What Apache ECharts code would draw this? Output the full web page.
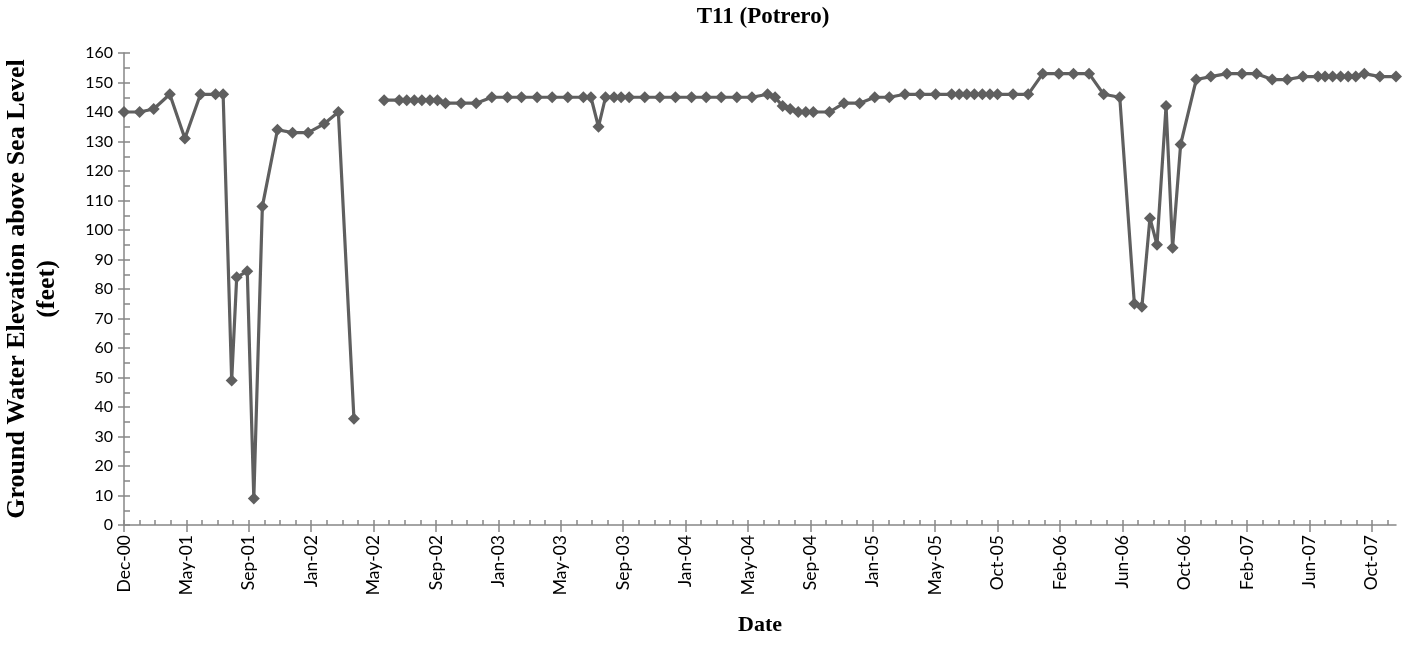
<!DOCTYPE html>
<html><head><meta charset="utf-8">
<script src="https://cdn.jsdelivr.net/npm/echarts@6/dist/echarts.min.js"></script>
<style>html,body{margin:0;padding:0;background:#fff}#c{width:1411px;height:646px}</style>
</head><body><div id="c"></div>
<script>
const chartTitle = 'T11 (Potrero)';
const yAxisTitle = 'Ground Water Elevation above Sea Level\n(feet)';
const xAxisTitle = 'Date';
const axisStartDate = '2000-12-31';
const majorTickDays = 124;
const minorTickDays = 31;
const monthNames = ['Jan','Feb','Mar','Apr','May','Jun','Jul','Aug','Sep','Oct','Nov','Dec'];

const dates = [
 '2000-12-31','2001-01-31','2001-02-28','2001-04-01','2001-05-01','2001-06-01','2001-07-01','2001-07-16',
 '2001-08-02','2001-08-12','2001-09-02','2001-09-15','2001-10-02','2001-11-01','2001-12-01','2002-01-01',
 '2002-02-02','2002-03-02','2002-04-02','2002-05-02',
 '2002-06-01','2002-07-01','2002-07-16','2002-07-31','2002-08-15','2002-08-31','2002-09-15','2002-10-01',
 '2002-11-01','2002-12-01','2003-01-01','2003-02-01','2003-03-01','2003-04-01','2003-05-01','2003-06-01',
 '2003-07-02','2003-07-17','2003-08-01','2003-08-15','2003-09-01','2003-09-15','2003-10-01','2003-11-01',
 '2003-12-01','2004-01-01','2004-02-02','2004-03-02','2004-04-01','2004-05-02','2004-06-01','2004-07-02',
 '2004-07-17','2004-08-01','2004-08-16','2004-09-01','2004-09-16','2004-10-01','2004-11-02','2004-12-01',
 '2005-01-01','2005-01-31','2005-03-01','2005-04-01','2005-05-01','2005-06-01','2005-07-03','2005-07-18',
 '2005-08-02','2005-08-17','2005-09-02','2005-09-17','2005-10-02','2005-11-02','2005-12-02','2005-12-31',
 '2006-02-01','2006-03-02','2006-04-02','2006-05-01','2006-06-02','2006-07-01','2006-07-16','2006-08-01',
 '2006-08-15','2006-09-02','2006-09-15','2006-10-01','2006-11-01','2006-11-30','2007-01-01','2007-01-31',
 '2007-03-01','2007-04-01','2007-05-01','2007-06-01','2007-07-01','2007-07-15','2007-07-30','2007-08-15',
 '2007-08-30','2007-09-14','2007-10-01','2007-11-01','2007-12-03'
];
const levels = [
 140,140,141,146,131,146,146,146,
 49,84,86,9,108,134,133,133,
 136,140,36,null,
 144,144,144,144,144,144,144,143,
 143,143,145,145,145,145,145,145,
 145,145,135,145,145,145,145,145,
 145,145,145,145,145,145,145,146,
 145,142,141,140,140,140,140,143,
 143,145,145,146,146,146,146,146,
 146,146,146,146,146,146,146,153,
 153,153,153,146,145,75,74,104,
 95,142,94,129,151,152,153,153,
 153,151,151,152,152,152,152,152,
 152,152,153,152,152
];
const yMin = 0, yMax = 160, yMajor = 10, yMinor = 5;

const DAY = 86400000;
function toUTC(s){const p=s.split('-').map(Number);return Date.UTC(p[0],p[1]-1,p[2]);}
const t0 = toUTC(axisStartDate);
function offsetDays(s){return Math.round((toUTC(s)-t0)/DAY);}
const seriesData = dates.map((d,i)=>[offsetDays(d), levels[i]===null ? '-' : levels[i]]);
const xMax = offsetDays(dates[dates.length-1]);
function multiples(step,max){const a=[];for(let v=0;v<=max;v+=step)a.push(v);return a;}
const majorVals = multiples(majorTickDays, xMax);
const minorVals = multiples(minorTickDays, xMax);
function fmtDate(v){const d=new Date(t0+v*DAY);return monthNames[d.getUTCMonth()]+'-'+String(d.getUTCFullYear()).slice(2);}

const axisGray = '#868686';
const lineColor = '#5f5f5f';
const chart = echarts.init(document.getElementById('c'), null, {renderer:'canvas'});
chart.setOption({
  animation:false,
  backgroundColor:'#fff',
  title:{text:chartTitle,left:758,top:1,textAlign:'center',
    textStyle:{fontFamily:'Liberation Serif',fontWeight:'bold',fontSize:23,color:'#000'}},
  grid:{left:124,right:15,top:53,bottom:121,containLabel:false,outerBoundsMode:'none'},
  xAxis:[{
    type:'value',min:0,max:xMax,interval:majorTickDays,position:'bottom',
    name:xAxisTitle,nameLocation:'middle',nameGap:89,
    nameTextStyle:{fontFamily:'Liberation Serif',fontWeight:'bold',fontSize:22,color:'#000'},
    axisLine:{show:true,lineStyle:{color:axisGray,width:1.5}},
    axisTick:{show:true,inside:false,length:7,lineStyle:{color:axisGray,width:1.5},customValues:majorVals},
    axisLabel:{show:true,rotate:90,margin:10,customValues:majorVals,formatter:fmtDate,
      fontFamily:'Lato',fontSize:17.5,color:'#000'},
    splitLine:{show:false}
  },{
    type:'value',min:0,max:xMax,interval:minorTickDays,position:'bottom',
    axisLine:{show:false},
    axisTick:{show:true,inside:true,length:5,lineStyle:{color:axisGray,width:1.5},customValues:minorVals},
    axisLabel:{show:false},splitLine:{show:false}
  }],
  yAxis:[{
    type:'value',min:yMin,max:yMax,interval:yMajor,position:'left',
    name:yAxisTitle,nameLocation:'middle',nameGap:62,
    nameTextStyle:{fontFamily:'Liberation Serif',fontWeight:'bold',fontSize:26,color:'#000',lineHeight:30},
    axisLine:{show:true,lineStyle:{color:axisGray,width:1.5}},
    axisTick:{show:true,inside:false,length:6,lineStyle:{color:axisGray,width:1.5}},
    axisLabel:{show:true,margin:11,fontFamily:'Lato',fontSize:16,color:'#000'},
    splitLine:{show:false}
  },{
    type:'value',min:yMin,max:yMax,interval:yMinor,position:'left',
    axisLine:{show:false},
    axisTick:{show:true,inside:true,length:6,lineStyle:{color:axisGray,width:1.5}},
    axisLabel:{show:false},splitLine:{show:false}
  }],
  series:[{
    type:'line',xAxisIndex:0,yAxisIndex:0,data:seriesData,connectNulls:false,
    symbol:'diamond',symbolSize:12,
    lineStyle:{color:lineColor,width:3.2},
    itemStyle:{color:lineColor,borderWidth:0}
  }]
});
</script></body></html>
